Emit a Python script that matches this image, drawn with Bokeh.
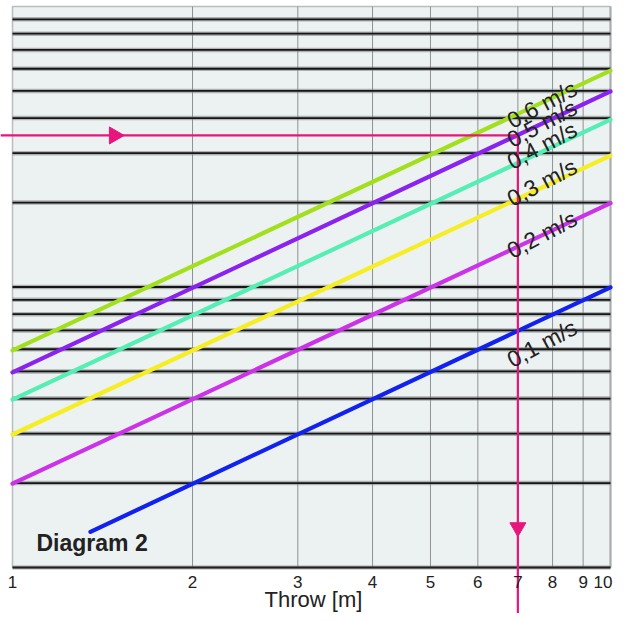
import math
from bokeh.plotting import figure
from bokeh.models import Range1d
from bokeh.core.properties import value
from bokeh.embed import file_html
from bokeh.resources import INLINE

# ---- data ----
velocity_labels = ["0,1 m/s", "0,2 m/s", "0,3 m/s", "0,4 m/s", "0,5 m/s", "0,6 m/s"]
line_colors = ["#1122EE", "#CC33E8", "#F6EE22", "#55EEB4", "#8A22F0", "#A2E01E"]
throw_start = [1.35, 1.0, 1.0, 1.0, 1.0, 1.0]
throw_end = [10.0, 10.0, 10.0, 10.0, 10.0, 10.0]
y_start = [1.34, 1.99, 2.98, 3.97, 4.96, 5.94]
y_end = [9.97, 19.9, 29.4, 39.5, 49.8, 59.1]
label_throw = [7.68, 7.68, 7.68, 7.68, 7.68, 7.68]
label_y = [6.29, 15.4, 23.6, 31.96, 38.3, 44.7]
x_ticks = [1, 2, 3, 4, 5, 6, 7, 8, 9, 10]
x_tick_labels = ["1", "2", "3", "4", "5", "6", "7", "8", "9", "10"]
y_grid = [2, 3, 4, 5, 6, 7, 8, 9, 10, 20, 30, 40, 50, 60, 70, 80, 90]
selected_throw = 7.0
selected_y = 34.7
arrow_right_throw = 1.48
arrow_down_y = 1.39

# ---- pixel mapping of the frame ----
W, H = 617, 613
XPX = 598.0    # px per decade, x
YPX = 280.5    # px per decade, y
x0_px = 12.0   # x=1 in figure px
y1_px = 567.0  # y=1 in figure px from top

x_lo = 10 ** (-x0_px / XPX)
x_hi = 10 ** ((W - x0_px) / XPX)
y_hi = 10 ** (y1_px / YPX)
y_lo = 10 ** ((y1_px - H) / YPX)

def y_shift(v, px_down):
    return v * 10 ** (-px_down / YPX)

def x_shift(v, px_right):
    return v * 10 ** (px_right / XPX)

p = figure(width=W, height=H, x_axis_type="log", y_axis_type="log",
           x_range=Range1d(x_lo, x_hi), y_range=Range1d(y_lo, y_hi),
           x_axis_location=None, y_axis_location=None,
           toolbar_location=None, output_backend="svg",
           min_border=0, outline_line_color=None, background_fill_color="white",
           border_fill_color="white")
p.grid.visible = False

# plot area
p.quad(left=[1], right=[10], bottom=[1], top=[100],
       fill_color="#ECF1F1", line_color="#B8BEBE", line_width=1.5)

# vertical grid lines
vx = x_ticks[1:-1]
p.segment(x0=vx, y0=[1] * len(vx), x1=vx, y1=[100] * len(vx),
          line_color="#8E9292", line_width=1)
p.segment(x0=[10], y0=[1], x1=[10], y1=[100], line_color="#A8AEAE", line_width=2)

# horizontal grid lines (dark with halo)
p.segment(x0=[1] * len(y_grid), y0=y_grid, x1=[10] * len(y_grid), y1=y_grid,
          line_color="#7A7E7E", line_width=4.5, line_alpha=0.55)
p.segment(x0=[1] * len(y_grid), y0=y_grid, x1=[10] * len(y_grid), y1=y_grid,
          line_color="#151515", line_width=1.8)

# bottom axis line
p.segment(x0=[1], y0=[1], x1=[10], y1=[1], line_color="#7A7E7E", line_width=4, line_alpha=0.6)
p.segment(x0=[1], y0=[1], x1=[10], y1=[1], line_color="#202020", line_width=2)

# velocity lines
for xs, xe, ys, ye, c in zip(throw_start, throw_end, y_start, y_end, line_colors):
    p.line([xs, xe], [ys, ye], line_color=c, line_width=4.2, line_cap="round")

# pink selection lines
p.line([x_lo, selected_throw], [selected_y, selected_y], line_color="#E8157C", line_width=2.2)
p.line([selected_throw, selected_throw], [selected_y, y_lo], line_color="#E8157C", line_width=2.2)
p.scatter([arrow_right_throw], [selected_y], marker="triangle", size=17,
          angle=-math.pi / 2, fill_color="#E8157C", line_color="#E8157C")
p.scatter([selected_throw], [arrow_down_y], marker="inverted_triangle", size=16,
          fill_color="#E8157C", line_color="#E8157C")

# velocity labels
p.text(x=label_throw, y=label_y, text=velocity_labels, angle=28, angle_units="deg",
       text_align="center", text_baseline="middle",
       text_font=value("Liberation Sans"), text_font_size="23px", text_color="#222222")

# tick labels
tick_font = value("Liberation Sans Narrow, Liberation Sans")
p.text(x=x_ticks[:-1], y=[y_shift(1, 14)] * (len(x_ticks) - 1), text=x_tick_labels[:-1],
       text_align="center", text_baseline="middle",
       text_font=tick_font, text_font_size="17px", text_color="#222222")
p.text(x=[x_ticks[-1]], y=[y_shift(1, 14)], text=[x_tick_labels[-1]],
       text_align="right", text_baseline="middle", x_offset=2,
       text_font=tick_font, text_font_size="17px", text_color="#222222")

# axis title
p.text(x=[x_shift(1, 301)], y=[y_shift(1, 32)], text=["Throw [m]"],
       text_align="center", text_baseline="middle",
       text_font=value("Liberation Sans"), text_font_size="22px", text_color="#222222")

# diagram label
p.text(x=[x_shift(1, 24)], y=[y_shift(1, -25)], text=["Diagram 2"],
       text_align="left", text_baseline="middle",
       text_font=value("Liberation Sans"), text_font_size="23px", text_font_style="bold",
       text_color="#222222")

open("out.html", "w").write(file_html(p, INLINE))
